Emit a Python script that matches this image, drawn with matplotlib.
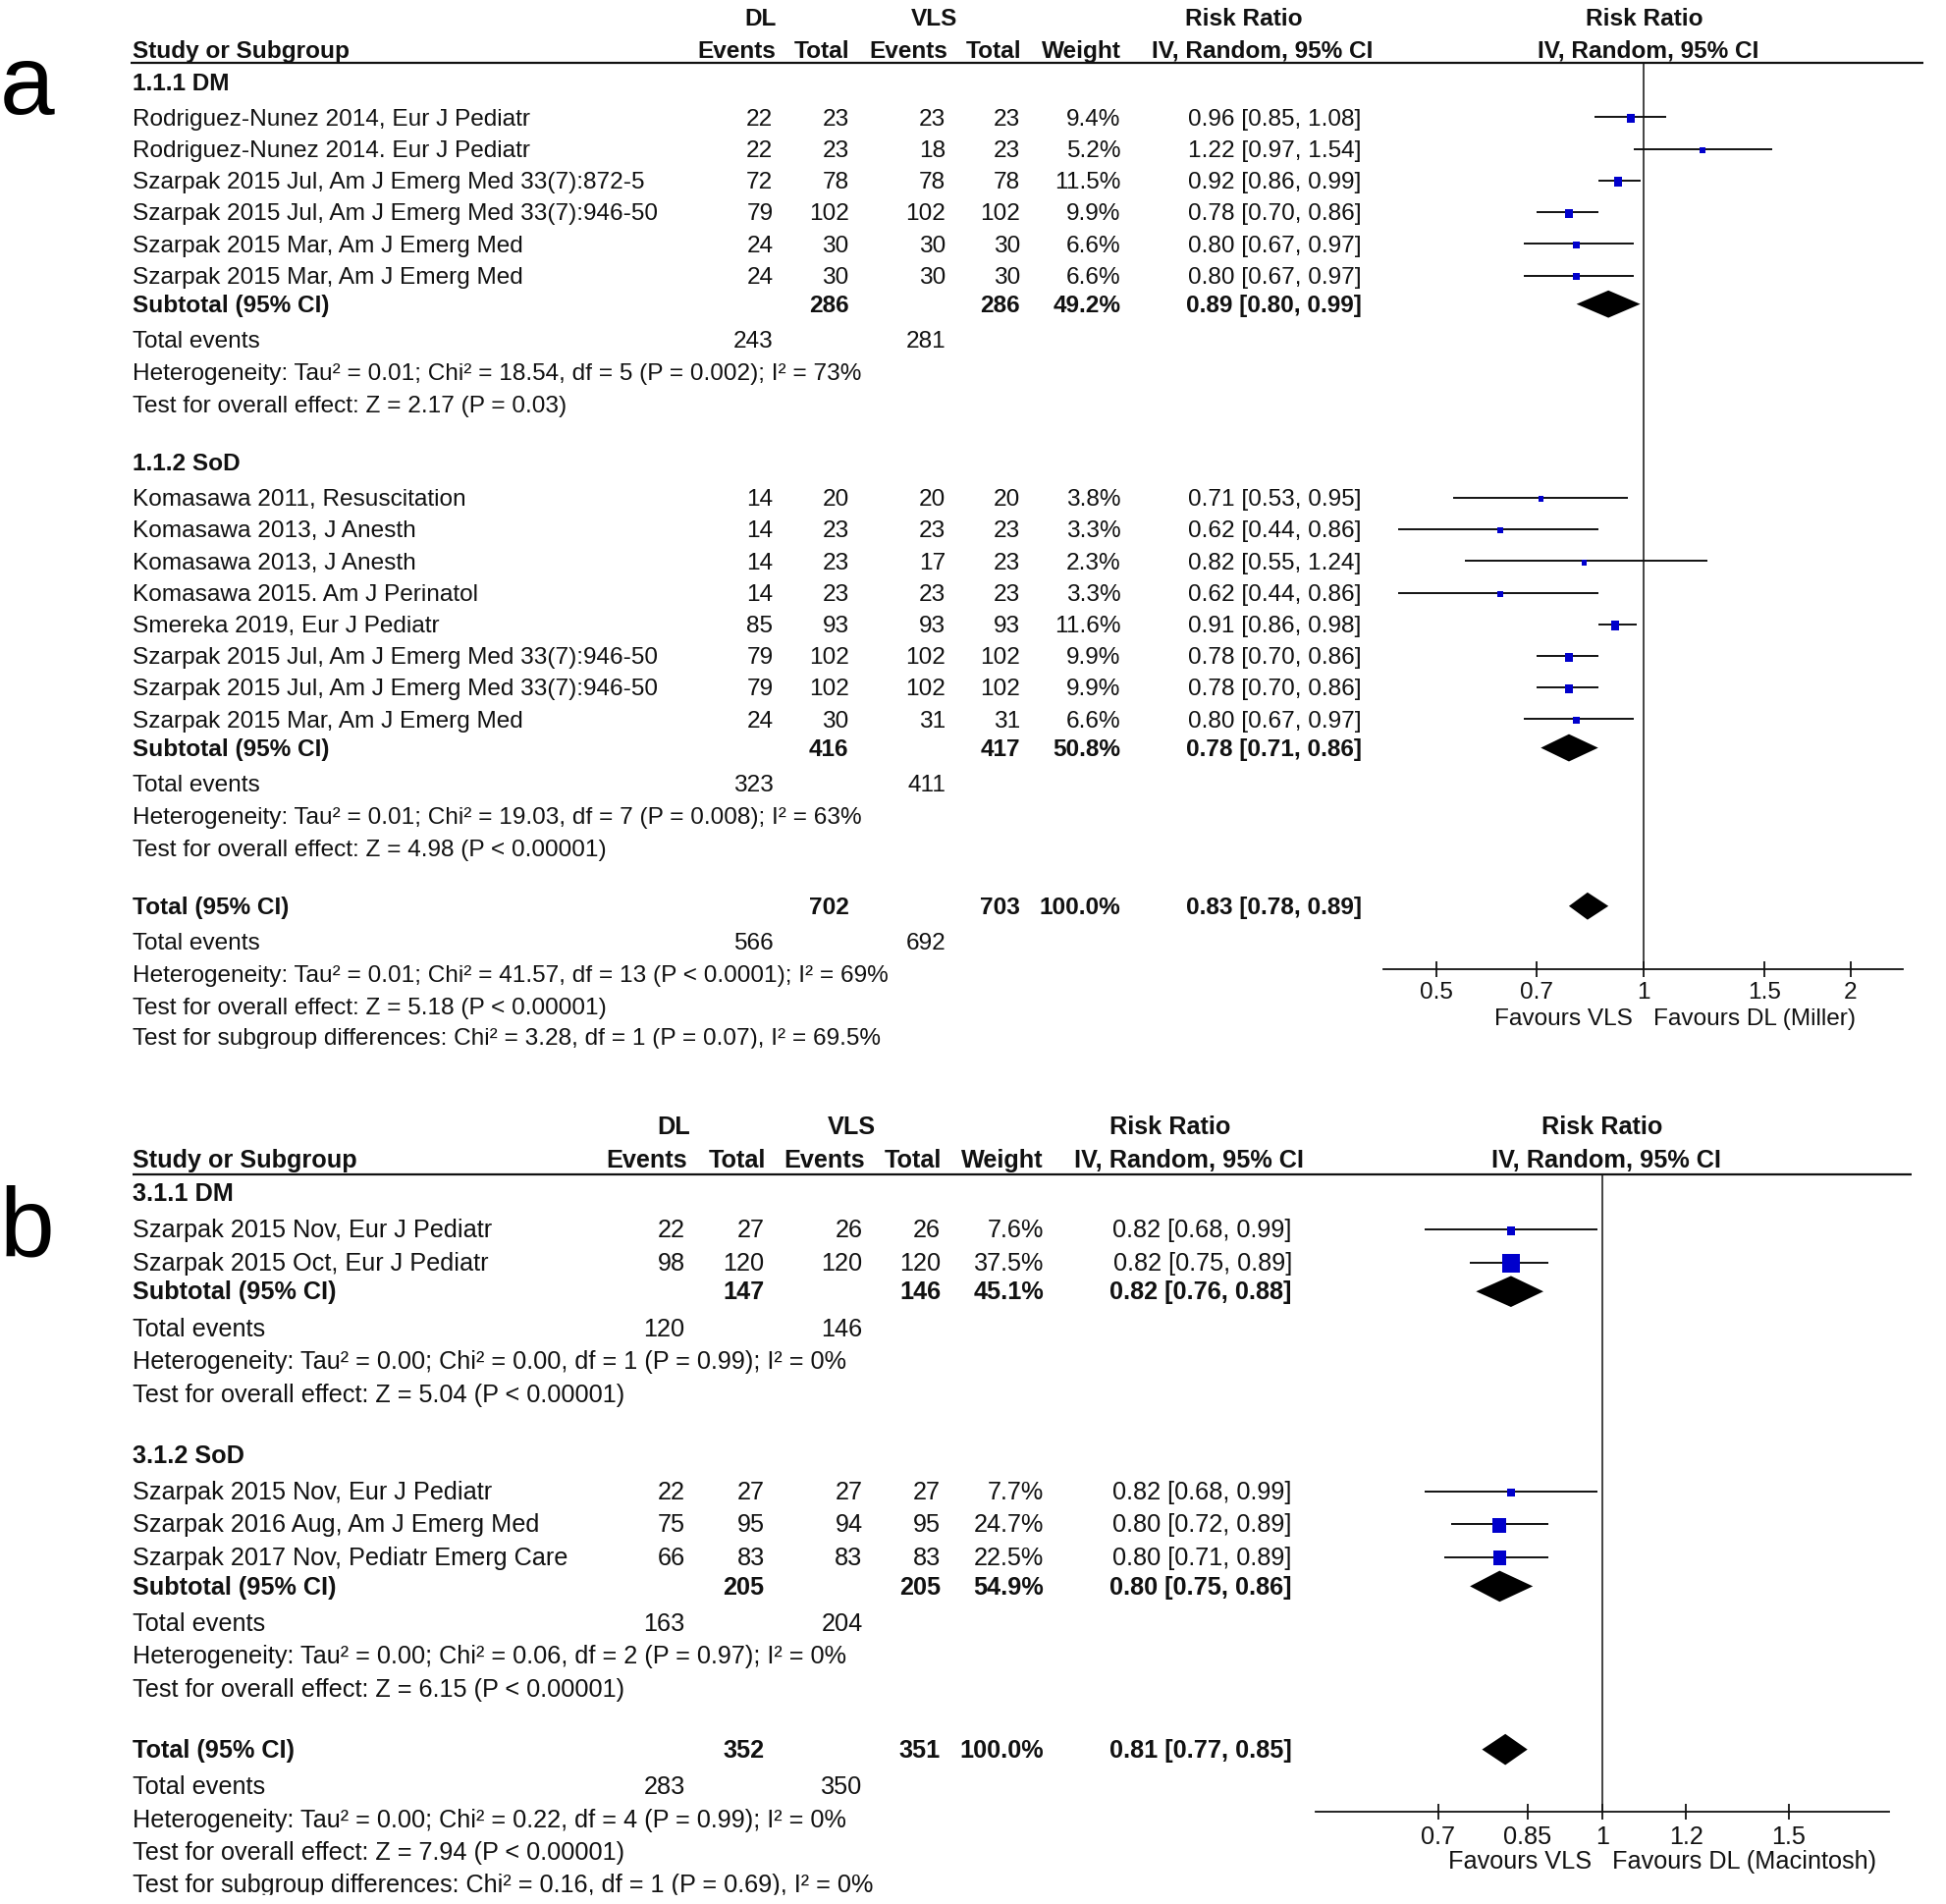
import numpy as np
import matplotlib.pyplot as plt
from matplotlib.path import Path
from matplotlib.patches import Rectangle
from matplotlib.ticker import NullLocator

plt.rcParams['font.family'] = ['Liberation Sans', 'DejaVu Sans']

INK = '#111111'
BLUE = '#0000cc'
W, H = 1568.0, 1534.0   # layout units (reference shown at 1568x1534)

# ---------------- panel a ----------------
a1_title = '1.1.1 DM'
a1_names = ['Rodriguez-Nunez 2014, Eur J Pediatr', 'Rodriguez-Nunez 2014. Eur J Pediatr',
            'Szarpak 2015 Jul, Am J Emerg Med 33(7):872-5', 'Szarpak 2015 Jul, Am J Emerg Med 33(7):946-50',
            'Szarpak 2015 Mar, Am J Emerg Med', 'Szarpak 2015 Mar, Am J Emerg Med']
a1_dl_events = [22, 22, 72, 79, 24, 24]
a1_dl_total = [23, 23, 78, 102, 30, 30]
a1_vls_events = [23, 18, 78, 102, 30, 30]
a1_vls_total = [23, 23, 78, 102, 30, 30]
a1_weight = [9.4, 5.2, 11.5, 9.9, 6.6, 6.6]
a1_rr = [0.96, 1.22, 0.92, 0.78, 0.80, 0.80]
a1_lo = [0.85, 0.97, 0.86, 0.70, 0.67, 0.67]
a1_hi = [1.08, 1.54, 0.99, 0.86, 0.97, 0.97]
a1_sub_totals = [286, 286]
a1_sub_weight = 49.2
a1_sub_ci = [0.89, 0.80, 0.99]
a1_sub_events = [243, 281]
a1_het = 'Heterogeneity: Tau² = 0.01; Chi² = 18.54, df = 5 (P = 0.002); I² = 73%'
a1_test = 'Test for overall effect: Z = 2.17 (P = 0.03)'

a2_title = '1.1.2 SoD'
a2_names = ['Komasawa 2011, Resuscitation', 'Komasawa 2013, J Anesth', 'Komasawa 2013, J Anesth',
            'Komasawa 2015. Am J Perinatol', 'Smereka 2019, Eur J Pediatr',
            'Szarpak 2015 Jul, Am J Emerg Med 33(7):946-50', 'Szarpak 2015 Jul, Am J Emerg Med 33(7):946-50',
            'Szarpak 2015 Mar, Am J Emerg Med']
a2_dl_events = [14, 14, 14, 14, 85, 79, 79, 24]
a2_dl_total = [20, 23, 23, 23, 93, 102, 102, 30]
a2_vls_events = [20, 23, 17, 23, 93, 102, 102, 31]
a2_vls_total = [20, 23, 23, 23, 93, 102, 102, 31]
a2_weight = [3.8, 3.3, 2.3, 3.3, 11.6, 9.9, 9.9, 6.6]
a2_rr = [0.71, 0.62, 0.82, 0.62, 0.91, 0.78, 0.78, 0.80]
a2_lo = [0.53, 0.44, 0.55, 0.44, 0.86, 0.70, 0.70, 0.67]
a2_hi = [0.95, 0.86, 1.24, 0.86, 0.98, 0.86, 0.86, 0.97]
a2_sub_totals = [416, 417]
a2_sub_weight = 50.8
a2_sub_ci = [0.78, 0.71, 0.86]
a2_sub_events = [323, 411]
a2_het = 'Heterogeneity: Tau² = 0.01; Chi² = 19.03, df = 7 (P = 0.008); I² = 63%'
a2_test = 'Test for overall effect: Z = 4.98 (P < 0.00001)'

a_tot_totals = [702, 703]
a_tot_weight = 100.0
a_tot_ci = [0.83, 0.78, 0.89]
a_tot_events = [566, 692]
a_tot_lines = ['Heterogeneity: Tau² = 0.01; Chi² = 41.57, df = 13 (P < 0.0001); I² = 69%',
               'Test for overall effect: Z = 5.18 (P < 0.00001)',
               'Test for subgroup differences: Chi² = 3.28, df = 1 (P = 0.07), I² = 69.5%']
a_ticks = [0.5, 0.7, 1, 1.5, 2]
a_tick_labels = ['0.5', '0.7', '1', '1.5', '2']
a_favours = ['Favours VLS', 'Favours DL (Miller)']

# ---------------- panel b ----------------
b1_title = '3.1.1 DM'
b1_names = ['Szarpak 2015 Nov, Eur J Pediatr', 'Szarpak 2015 Oct, Eur J Pediatr']
b1_dl_events = [22, 98]
b1_dl_total = [27, 120]
b1_vls_events = [26, 120]
b1_vls_total = [26, 120]
b1_weight = [7.6, 37.5]
b1_rr = [0.82, 0.82]
b1_lo = [0.68, 0.75]
b1_hi = [0.99, 0.89]
b1_sub_totals = [147, 146]
b1_sub_weight = 45.1
b1_sub_ci = [0.82, 0.76, 0.88]
b1_sub_events = [120, 146]
b1_het = 'Heterogeneity: Tau² = 0.00; Chi² = 0.00, df = 1 (P = 0.99); I² = 0%'
b1_test = 'Test for overall effect: Z = 5.04 (P < 0.00001)'

b2_title = '3.1.2 SoD'
b2_names = ['Szarpak 2015 Nov, Eur J Pediatr', 'Szarpak 2016 Aug, Am J Emerg Med',
            'Szarpak 2017 Nov, Pediatr Emerg Care']
b2_dl_events = [22, 75, 66]
b2_dl_total = [27, 95, 83]
b2_vls_events = [27, 94, 83]
b2_vls_total = [27, 95, 83]
b2_weight = [7.7, 24.7, 22.5]
b2_rr = [0.82, 0.80, 0.80]
b2_lo = [0.68, 0.72, 0.71]
b2_hi = [0.99, 0.89, 0.89]
b2_sub_totals = [205, 205]
b2_sub_weight = 54.9
b2_sub_ci = [0.80, 0.75, 0.86]
b2_sub_events = [163, 204]
b2_het = 'Heterogeneity: Tau² = 0.00; Chi² = 0.06, df = 2 (P = 0.97); I² = 0%'
b2_test = 'Test for overall effect: Z = 6.15 (P < 0.00001)'

b_tot_totals = [352, 351]
b_tot_weight = 100.0
b_tot_ci = [0.81, 0.77, 0.85]
b_tot_events = [283, 350]
b_tot_lines = ['Heterogeneity: Tau² = 0.00; Chi² = 0.22, df = 4 (P = 0.99); I² = 0%',
               'Test for overall effect: Z = 7.94 (P < 0.00001)',
               'Test for subgroup differences: Chi² = 0.16, df = 1 (P = 0.69), I² = 0%']
b_ticks = [0.7, 0.85, 1, 1.2, 1.5]
b_tick_labels = ['0.7', '0.85', '1', '1.2', '1.5']
b_favours = ['Favours VLS', 'Favours DL (Macintosh)']


def group(title, names, dle, dlt, vle, vlt, w, rr, lo, hi, sub_tot, sub_w, sub_ci, sub_ev, het, test):
    return dict(title=title, names=names, dle=dle, dlt=dlt, vle=vle, vlt=vlt, w=np.array(w),
                rr=np.array(rr), lo=np.array(lo), hi=np.array(hi), sub_tot=sub_tot, sub_w=sub_w,
                sub_ci=sub_ci, sub_ev=sub_ev, het=het, test=test)


def ci_text(c):
    return f'{c[0]:.2f} [{c[1]:.2f}, {c[2]:.2f}]'


fig = plt.figure(figsize=(19.82, 19.39), dpi=100)
tx = fig.add_axes([0, 0, 1, 1])
tx.set_xlim(0, W)
tx.set_ylim(H, 0)
tx.axis('off')

square = Path([(-0.45, -0.5), (0.45, -0.5), (0.45, 0.5), (-0.45, 0.5), (-0.45, -0.5)], closed=True)


def diamond(ax, y, c, h):
    ax.fill([c[1], c[0], c[2], c[0]], [y, y - h, y, y + h], color='black', lw=0, zorder=3)


def draw_panel(label, label_y, line_y, line_x, groups, tot, tot_lines, cols, hdr, box, xlim,
               ticks, tick_labels, favours, gaps, sq_k, sq_min, dia_h, fs):

    def put(x, y, s, ha='left', bold=False):
        tx.text(x, y + 6.5, s, ha=ha, va='baseline', fontsize=fs, color=INK,
                fontweight='bold' if bold else 'normal')

    tx.text(0, label_y, label, fontsize=72, va='baseline', color='black')
    # header
    put(hdr['dl'], hdr['y1'], 'DL', ha='center', bold=True)
    put(hdr['vls'], hdr['y1'], 'VLS', ha='center', bold=True)
    put(hdr['rr'], hdr['y1'], 'Risk Ratio', ha='center', bold=True)
    put(hdr['frr'], hdr['y1'], 'Risk Ratio', ha='center', bold=True)
    put(cols['name'], hdr['y2'], 'Study or Subgroup', bold=True)
    put(cols['dle'] + 2, hdr['y2'], 'Events', ha='right', bold=True)
    put(cols['dlt'] + 1, hdr['y2'], 'Total', ha='right', bold=True)
    put(cols['vle'] + 2, hdr['y2'], 'Events', ha='right', bold=True)
    put(cols['vlt'] + 1, hdr['y2'], 'Total', ha='right', bold=True)
    put(cols['w'], hdr['y2'], 'Weight', ha='right', bold=True)
    put(hdr['ci'], hdr['y2'], 'IV, Random, 95% CI', ha='center', bold=True)
    put(hdr['fci'], hdr['y2'], 'IV, Random, 95% CI', ha='center', bold=True)
    tx.plot(line_x, [line_y, line_y], color=INK, lw=1.6, solid_capstyle='butt')

    x0, y0, x1, y1 = box
    fax = fig.add_axes([x0 / W, 1 - y1 / H, (x1 - x0) / W, (y1 - y0) / H])
    fax.patch.set_alpha(0)
    fax.set_xscale('log')
    fax.set_xlim(xlim)
    fax.set_ylim(y1, y0)
    fax.axvline(1, color=INK, lw=1.1, zorder=1)

    y = line_y
    for gi, g in enumerate(groups):
        y += gaps['first_group'] if gi == 0 else gaps['next_group']
        put(cols['name'], y, g['title'], bold=True)
        ys = []
        for i, nm in enumerate(g['names']):
            y += gaps['study_first'] if i == 0 else gaps['study']
            ys.append(y)
            put(cols['name'], y, nm)
            put(cols['dle'], y, str(g['dle'][i]), ha='right')
            put(cols['dlt'], y, str(g['dlt'][i]), ha='right')
            put(cols['vle'], y, str(g['vle'][i]), ha='right')
            put(cols['vlt'], y, str(g['vlt'][i]), ha='right')
            put(cols['w'], y, f"{g['w'][i]:.1f}%", ha='right')
            put(cols['ci'], y, ci_text([g['rr'][i], g['lo'][i], g['hi'][i]]), ha='right')
        ys = np.array(ys)
        fax.hlines(ys, g['lo'], g['hi'], color=INK, lw=1.4, zorder=2)
        sides = np.maximum(sq_k * np.sqrt(g['w']), sq_min)
        fax.scatter(g['rr'], ys + 1, s=sides ** 2, marker=square, color=BLUE, lw=0, zorder=3)

        y += gaps['subtotal']
        put(cols['name'], y, 'Subtotal (95% CI)', bold=True)
        put(cols['dlt'], y, str(g['sub_tot'][0]), ha='right', bold=True)
        put(cols['vlt'], y, str(g['sub_tot'][1]), ha='right', bold=True)
        put(cols['w'], y, f"{g['sub_w']:.1f}%", ha='right', bold=True)
        put(cols['ci'], y, ci_text(g['sub_ci']), ha='right', bold=True)
        diamond(fax, y, g['sub_ci'], dia_h)

        y += gaps['events']
        put(cols['name'], y, 'Total events')
        put(cols['dle'], y, str(g['sub_ev'][0]), ha='right')
        put(cols['vle'], y, str(g['sub_ev'][1]), ha='right')
        y += gaps['het']
        put(cols['name'], y, g['het'])
        y += gaps['test']
        put(cols['name'], y, g['test'])

    y += gaps['total']
    put(cols['name'], y, 'Total (95% CI)', bold=True)
    put(cols['dlt'], y, str(tot['totals'][0]), ha='right', bold=True)
    put(cols['vlt'], y, str(tot['totals'][1]), ha='right', bold=True)
    put(cols['w'], y, f"{tot['weight']:.1f}%", ha='right', bold=True)
    put(cols['ci'], y, ci_text(tot['ci']), ha='right', bold=True)
    diamond(fax, y, tot['ci'], dia_h)
    y += gaps['events']
    put(cols['name'], y, 'Total events')
    put(cols['dle'], y, str(tot['events'][0]), ha='right')
    put(cols['vle'], y, str(tot['events'][1]), ha='right')
    for k, line in enumerate(tot_lines):
        y += gaps['het'] if k == 0 else (gaps['test'] if k == 1 else gaps['subtest'])
        put(cols['name'], y, line)

    for s in ['left', 'right', 'top']:
        fax.spines[s].set_visible(False)
    fax.spines['bottom'].set_linewidth(1.3)
    fax.spines['bottom'].set_color(INK)
    fax.set_yticks([])
    fax.set_xticks(ticks)
    fax.set_xticklabels(tick_labels)
    fax.xaxis.set_minor_locator(NullLocator())
    fax.tick_params(axis='x', direction='inout', length=11, width=1.3, pad=4,
                    labelsize=fs, colors=INK)
    fax.annotate(favours[0], xy=(1, 0), xycoords=('data', 'axes fraction'), xytext=(-7.5, -36.5),
                 textcoords='offset points', ha='right', va='center', fontsize=fs, color=INK)
    fax.annotate(favours[1], xy=(1, 0), xycoords=('data', 'axes fraction'), xytext=(7.5, -36.5),
                 textcoords='offset points', ha='left', va='center', fontsize=fs, color=INK)


groups_a = [group(a1_title, a1_names, a1_dl_events, a1_dl_total, a1_vls_events, a1_vls_total,
                  a1_weight, a1_rr, a1_lo, a1_hi, a1_sub_totals, a1_sub_weight, a1_sub_ci,
                  a1_sub_events, a1_het, a1_test),
            group(a2_title, a2_names, a2_dl_events, a2_dl_total, a2_vls_events, a2_vls_total,
                  a2_weight, a2_rr, a2_lo, a2_hi, a2_sub_totals, a2_sub_weight, a2_sub_ci,
                  a2_sub_events, a2_het, a2_test)]
groups_b = [group(b1_title, b1_names, b1_dl_events, b1_dl_total, b1_vls_events, b1_vls_total,
                  b1_weight, b1_rr, b1_lo, b1_hi, b1_sub_totals, b1_sub_weight, b1_sub_ci,
                  b1_sub_events, b1_het, b1_test),
            group(b2_title, b2_names, b2_dl_events, b2_dl_total, b2_vls_events, b2_vls_total,
                  b2_weight, b2_rr, b2_lo, b2_hi, b2_sub_totals, b2_sub_weight, b2_sub_ci,
                  b2_sub_events, b2_het, b2_test)]

draw_panel('a', 92, 51, [105, 1550], groups_a,
           dict(totals=a_tot_totals, weight=a_tot_weight, ci=a_tot_ci, events=a_tot_events), a_tot_lines,
           dict(name=107, dle=623, dlt=684, vle=762, vlt=822, w=903, ci=1097),
           dict(y1=14, y2=40, dl=613, vls=753, rr=1002, ci=1017, frr=1325, fci=1328),
           (1115, 51, 1533, 781), (0.420, 2.38), a_ticks, a_tick_labels, a_favours,
           dict(first_group=15, study_first=28.5, study=25.5, subtotal=23, events=28.5, het=26,
                test=26, next_group=47, total=47, subtest=25),
           2.0, 4.2, 11, 17.6)

draw_panel('b', 1012, 946, [107, 1540], groups_b,
           dict(totals=b_tot_totals, weight=b_tot_weight, ci=b_tot_ci, events=b_tot_events), b_tot_lines,
           dict(name=107, dle=552, dlt=616, vle=695, vlt=758, w=841, ci=1041),
           dict(y1=907, y2=934, dl=543, vls=686, rr=943, ci=958, frr=1291, fci=1294),
           (1060, 946, 1522, 1460), (0.536, 1.866), b_ticks, b_tick_labels, b_favours,
           dict(first_group=15, study_first=29.5, study=26.5, subtotal=23.5, events=29.5, het=26.5,
                test=26.5, next_group=49, total=49, subtest=26),
           2.27, 4.2, 12.5, 18.2)

# the source panels are cropped just under their last text line
tx.add_patch(Rectangle((0, 845), W, 35, color='white', zorder=5))
tx.add_patch(Rectangle((0, 1527), W, 10, color='white', zorder=5))

fig.savefig('out.png', dpi=100, facecolor='white')
